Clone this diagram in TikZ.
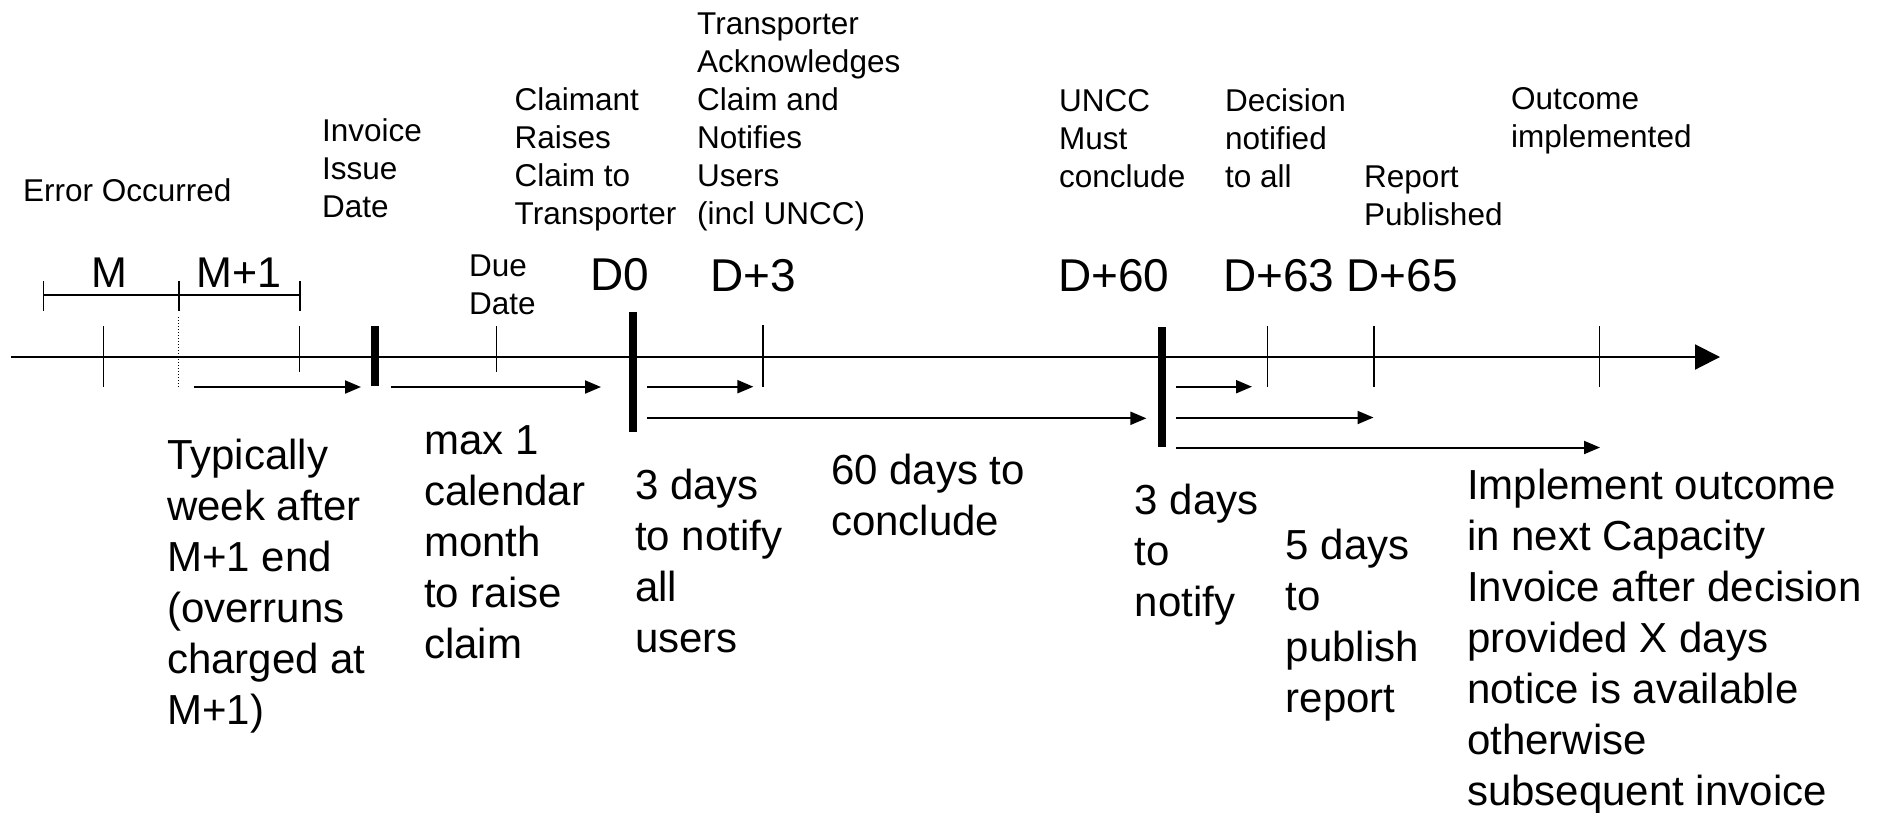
\documentclass[tikz,border=0pt]{standalone}
\usepackage{fontspec}
\setmainfont{Liberation Sans}
\usetikzlibrary{arrows.meta}
\begin{document}
\begin{tikzpicture}[x=1pt,y=-1pt,
  % multi-line texts are placed by the baseline of their last line
  lbl/.style={anchor=base west, inner sep=0pt, align=left, font=\fontsize{31.5}{38}\selectfont},
  note/.style={anchor=base west, inner sep=0pt, align=left, font=\fontsize{42}{51}\selectfont},
  daylbl/.style={anchor=base west, inner sep=0pt, font=\fontsize{46}{50}\selectfont},
  monlbl/.style={anchor=base west, inner sep=0pt, font=\fontsize{43}{48}\selectfont},
  axisline/.style={line width=2pt, -{Triangle[length=25pt,width=25pt]}},
  tickline/.style={line width=1.5pt},
  barline/.style={line width=8pt},
  spanarrow/.style={line width=2pt, -{Triangle[length=16pt,width=13pt]}},
]
\useasboundingbox (0,0) rectangle (1889,812);

% time axis
\coordinate (ax0) at (11,357);
\coordinate (ax1) at (1720,357);
\draw[axisline] (ax0) -- (ax1);

% month bracket M / M+1
\draw[tickline] (43.3,295) -- (300,295);
\foreach \x in {43.3,179,300} \draw[tickline] (\x,281) -- (\x,311);
\node[monlbl] (mlab) at (91,287.3) {M};
\node[monlbl] (m1lab) at (196,287.3) {M+1};

% ticks and milestone bars on the axis
\draw[tickline] (103.6,326) -- (103.6,387);
\draw[line width=1pt, dotted] (178.7,317) -- (178.7,387);
\draw[tickline] (299.3,326) -- (299.3,372);
\draw[barline] (375,326) -- (375,386);
\draw[tickline] (496.3,326) -- (496.3,372);
\draw[barline] (632.5,312) -- (632.5,432);
\draw[tickline] (763,325) -- (763,387);
\draw[barline] (1161.6,327) -- (1161.6,447);
\draw[tickline] (1267.6,326) -- (1267.6,387);
\draw[tickline] (1373.8,326) -- (1373.8,387);
\draw[tickline] (1599.7,326) -- (1599.7,387);

% duration arrows
\coordinate (a1s) at (193.6,387);  \coordinate (a1e) at (361,387);
\coordinate (a2s) at (390.5,387);  \coordinate (a2e) at (601,387);
\coordinate (a3s) at (646.8,386.7); \coordinate (a3e) at (753.4,386.7);
\coordinate (a4s) at (646.8,418.3); \coordinate (a4e) at (1146.4,418.3);
\coordinate (a5s) at (1176.4,386.7); \coordinate (a5e) at (1252,386.7);
\coordinate (a6s) at (1176.4,417.5); \coordinate (a6e) at (1373.5,417.5);
\coordinate (a7s) at (1176.4,447.5); \coordinate (a7e) at (1600,447.5);
\foreach \i in {1,...,7} \draw[spanarrow] (a\i s) -- (a\i e);

% milestone day labels
\node[daylbl] (d0) at (590.5,290.5) {D0};
\node[daylbl] (d3) at (710,291) {D+3};
\node[daylbl] (d60) at (1058,291.7) {D+60};
\node[daylbl] (d63) at (1223,291.7) {D+63};
\node[daylbl] (d65) at (1346.5,291.7) {D+65};

% event descriptions above the axis
\node[lbl] (err) at (23,201) {Error Occurred};
\node[lbl] (inv) at (322,217.3) {Invoice\\Issue\\Date};
\node[lbl] (due) at (469,314) {Due\\Date};
\node[lbl] (raise) at (514.5,224) {Claimant\\Raises\\Claim to\\Transporter};
\node[lbl] (ack) at (697,224) {Transporter\\Acknowledges\\Claim and\\Notifies\\Users\\(incl UNCC)};
\node[lbl] (uncc) at (1059,187.3) {UNCC\\Must\\conclude};
\node[lbl] (dec) at (1225,187.3) {Decision\\notified\\to all};
\node[lbl] (rep) at (1364,225) {Report\\Published};
\node[lbl] (out) at (1511,147.7) {Outcome\\implemented};

% period notes below the axis
\node[note] (n1) at (167,724) {Typically\\week after\\M+1 end\\(overruns\\charged at\\M+1)};
\node[note] (n2) at (424,658.3) {max 1\\calendar\\month\\to raise\\claim};
\node[note] (n3) at (635,652.3) {3 days\\to notify\\all\\users};
\node[note] (n4) at (831,535) {60 days to\\conclude};
\node[note] (n5) at (1134.5,616) {3 days\\to\\notify};
\node[note] (n6) at (1285.5,712.7) {5 days\\to\\publish\\report};
\node[note] (n7) at (1467,805) {Implement outcome\\in next Capacity\\Invoice after decision\\provided X days\\notice is available\\otherwise\\subsequent invoice};
\end{tikzpicture}
\end{document}
